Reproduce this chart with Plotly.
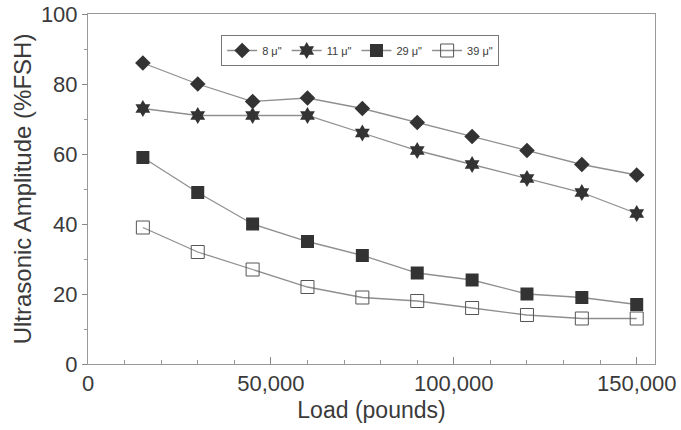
import plotly.graph_objects as go

loads = [15000, 30000, 45000, 60000, 75000, 90000, 105000, 120000, 135000, 150000]
series_names = ['8 μ"', '11 μ"', '29 μ"', '39 μ"']
amp_8 = [86, 80, 75, 76, 73, 69, 65, 61, 57, 54]
amp_11 = [73, 71, 71, 71, 66, 61, 57, 53, 49, 43]
amp_29 = [59, 49, 40, 35, 31, 26, 24, 20, 19, 17]
amp_39 = [39, 32, 27, 22, 19, 18, 16, 14, 13, 13]

x_tickvals = [0, 50000, 100000, 150000]
x_ticktext = ["0", "50,000", "100,000", "150,000"]
y_tickvals = [0, 20, 40, 60, 80, 100]

FONT = "Liberation Sans, Arial, sans-serif"
TXT = "#3a3a3a"
LINE = "#8f8f8f"
MK = "#333333"

styles = [
    dict(symbol="diamond", size=12, color=MK, line=dict(width=0)),
    dict(symbol="hexagram", size=13, color=MK, line=dict(width=0)),
    dict(symbol="square", size=13, color=MK, line=dict(width=0)),
    dict(symbol="square-open", size=13, color="#555555", line=dict(width=1)),
]

fig = go.Figure()
for name, vals, st in zip(series_names, [amp_8, amp_11, amp_29, amp_39], styles):
    fig.add_trace(go.Scatter(
        x=loads, y=vals, name=name, mode="lines+markers",
        line=dict(color=LINE, width=1.3),
        marker=st,
    ))

fig.update_layout(
    width=681, height=430,
    margin=dict(l=88, r=26, t=14, b=66),
    paper_bgcolor="white", plot_bgcolor="white",
    font=dict(family=FONT, color=TXT, size=22),
    showlegend=True,
    legend=dict(
        orientation="h", x=0.48, y=0.94, xanchor="center", yanchor="top",
        bordercolor="#777777", borderwidth=1, bgcolor="white",
        font=dict(size=11, color=TXT), itemwidth=30,
        tracegroupgap=0,
    ),
)

fig.update_xaxes(
    range=[0, 155000], tickvals=x_tickvals, ticktext=x_ticktext,
    ticks="inside", ticklen=7, tickcolor="#888888",
    minor=dict(dtick=10000, tick0=0, ticks="inside", ticklen=4, tickcolor="#999999"),
    showline=True, linecolor="#999999", linewidth=1, mirror=True,
    showgrid=False, zeroline=False, automargin=False,
    tickfont=dict(size=22, color=TXT),
    title=dict(text="Load (pounds)", font=dict(size=23, color=TXT), standoff=6),
)
fig.update_yaxes(
    range=[0, 100], tickvals=y_tickvals,
    ticks="outside", ticklen=5, tickcolor="#888888",
    minor=dict(dtick=10, tick0=0, ticks="outside", ticklen=3, tickcolor="#999999"),
    showline=True, linecolor="#999999", linewidth=1, mirror=True,
    showgrid=False, zeroline=False, automargin=False,
    tickfont=dict(size=22, color=TXT),
    title=dict(text="Ultrasonic Amplitude (%FSH)", font=dict(size=24, color=TXT), standoff=2),
)

# remove the browser's default 8px body margin so the figure fills the window
fig.write_html("out.html", config={"displayModeBar": False},
               post_script="document.body.style.margin='0';")
